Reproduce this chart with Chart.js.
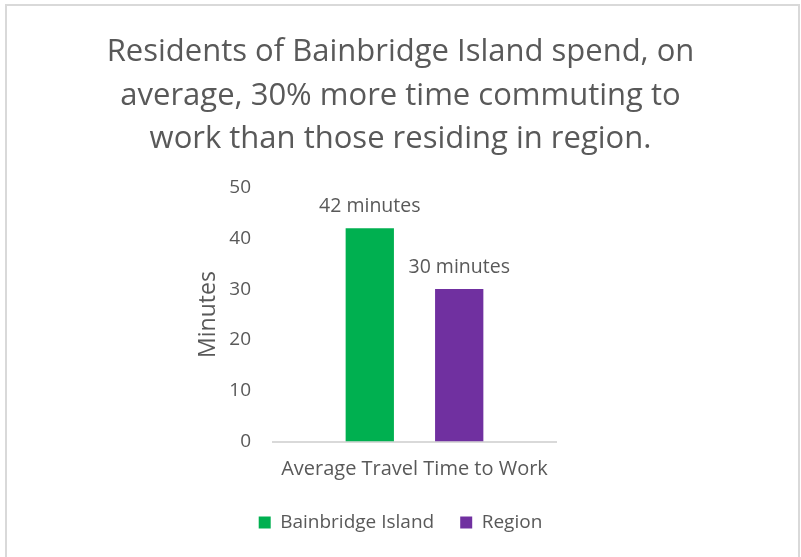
<!DOCTYPE html>
<html>
<head>
<meta charset="utf-8">
<script src="https://cdn.jsdelivr.net/npm/chart.js@4"></script>
<style>
  html, body { margin: 0; padding: 0; background: #fff; }
  #wrap { position: relative; width: 801px; height: 557px; }
  #frame { position: absolute; left: 5px; top: 4px; width: 791px; height: 600px; border: 2px solid #d9d9d9; pointer-events: none; }
  canvas { position: absolute; left: 0; top: 0; }
</style>
</head>
<body>
<div id="wrap">
  <canvas id="c" width="801" height="557"></canvas>
  <div id="frame"></div>
</div>
<script>
var titleLines = ['Residents of Bainbridge Island spend, on', 'average, 30% more time commuting to', 'work than those residing in region.'];
var categories = ['Average Travel Time to Work'];
var seriesNames = ['Bainbridge Island', 'Region'];
var seriesColors = ['#00B050', '#7030A0'];
var bainbridge = [42];
var region = [30];
var valueLabels = ['42 minutes', '30 minutes'];
var yTicks = [0, 10, 20, 30, 40, 50];

var grey = '#595959';
var fam = '"Open Sans", sans-serif';

// draws "xx minutes" above each bar
var barLabels = {
	id: 'barLabels',
	afterDatasetsDraw: function(chart) {
		var ctx = chart.ctx;
		ctx.save();
		ctx.font = '19.5px ' + fam;
		ctx.fillStyle = grey;
		ctx.textAlign = 'center';
		ctx.textBaseline = 'middle';
		chart.data.datasets.forEach(function(ds, i) {
			var meta = chart.getDatasetMeta(i);
			meta.data.forEach(function(bar) {
				ctx.fillText(valueLabels[i], bar.x, bar.y - 22);
			});
		});
		ctx.restore();
	}
};

new Chart(document.getElementById('c').getContext('2d'), {
	type: 'bar',
	data: {
		labels: categories,
		datasets: [
			{ label: seriesNames[0], data: bainbridge, backgroundColor: seriesColors[0], yAxisID: 'y' },
			{ label: seriesNames[1], data: region, backgroundColor: seriesColors[1], yAxisID: 'y' }
		]
	},
	options: {
		responsive: false,
		animation: false,
		layout: { padding: { left: 0, right: 0, top: 0, bottom: 15 } },
		datasets: { bar: { categoryPercentage: 0.632, barPercentage: 0.54 } },
		plugins: {
			title: {
				display: true,
				text: titleLines,
				color: grey,
				font: { family: fam, size: 31, weight: 'normal', lineHeight: 43.5 / 31 },
				padding: { top: 30.5, bottom: 26.5 }
			},
			legend: {
				position: 'bottom',
				labels: {
					color: grey,
					font: { family: fam, size: 19 },
					boxWidth: 12,
					boxHeight: 12,
					padding: 26
				}
			},
			tooltip: { enabled: false }
		},
		scales: {
			x: {
				grid: { display: false, drawTicks: false },
				border: { display: true, color: '#d9d9d9', width: 2 },
				ticks: { color: grey, font: { family: fam, size: 20 }, padding: 16 },
				afterFit: function(s) { s.height = 45.5; }
			},
			y: {
				position: 'left',
				min: 0,
				max: 50,
				afterBuildTicks: function(s) { s.ticks = yTicks.map(function(v) { return { value: v }; }); },
				grid: { display: false, drawTicks: false },
				border: { display: false },
				ticks: { color: grey, font: { family: fam, size: 19 }, padding: 22 },
				title: {
					display: true,
					text: 'Minutes',
					color: grey,
					font: { family: fam, size: 23 },
					padding: { top: 195, bottom: 0 }
				},
				afterFit: function(s) { s.width = 273; }
			},
			yRight: {
				position: 'right',
				display: true,
				grid: { display: false, drawTicks: false },
				border: { display: false },
				ticks: { display: false },
				afterFit: function(s) { s.width = 245; }
			}
		}
	},
	plugins: [barLabels]
});
</script>
</body>
</html>
